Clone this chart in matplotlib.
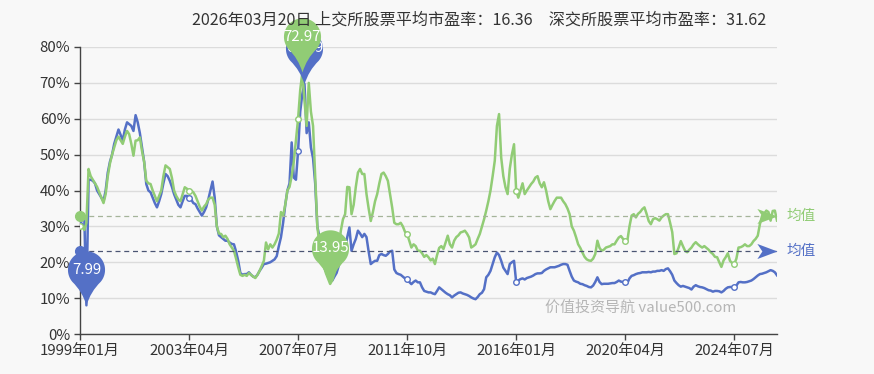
import numpy as np
import matplotlib
matplotlib.use('Agg')
import matplotlib.pyplot as plt
from matplotlib.path import Path

plt.rcParams['font.family'] = ['Noto Sans CJK SC', 'DejaVu Sans']

# 月份类目 1999年01月 ~ 2026年03月
months = [f"{1999 + i // 12}年{i % 12 + 1:02d}月" for i in range(327)]

# 上交所股票平均市盈率 (按月)
sh_pe = [
    30.5, 32, 33, 7.99, 43, 43, 42.7, 42, 40, 39, 38, 37,
    40, 45, 48, 50, 53, 55, 57, 55.5, 54, 57, 59, 58.5,
    58, 56.6, 61, 59, 56, 52, 48, 41.8, 40, 39.5, 38, 36.5,
    35.3, 37, 39, 42, 44.6, 44, 42.7, 41, 39, 37.5, 36, 35.3,
    37, 38.5, 38.5, 38, 37.5, 36.5, 36.2, 35, 34, 33, 34, 35.3,
    37.5, 40, 42.5, 38, 30, 27.5, 27, 26.5, 26, 26, 25.5, 25.1,
    25, 23, 20.4, 17, 16.5, 16.7, 16.7, 17.2, 16.5, 16, 15.8, 16.5,
    17.6, 18.5, 19.5, 19.6, 19.8, 20, 20.4, 20.8, 21.7, 24.5, 27, 31,
    36, 40, 42, 53.4, 43.6, 43, 51, 62, 67, 69.69, 56, 59,
    52, 49, 42, 30, 27, 22, 19, 17.5, 16, 15.5, 14.9, 16,
    17, 19, 21, 22, 24, 27, 29.7, 23.2, 25, 26.5, 28.8, 28,
    27, 27.9, 27, 23, 19.5, 20, 20.4, 20.4, 22, 22.3, 22, 21.8,
    22.3, 23, 23.2, 18, 17, 16.7, 16.5, 16, 15.5, 15.3, 14.5, 13.9,
    14.5, 14.9, 14.4, 14.4, 13, 12, 11.8, 11.6, 11.6, 11.3, 11.1, 12,
    13, 12.5, 12, 11.5, 11.1, 10.8, 10.2, 10.7, 11.1, 11.5, 11.6, 11.3,
    11.1, 10.9, 10.6, 10.2, 9.9, 9.7, 10.3, 11.1, 11.5, 12.5, 15.8, 16.5,
    17.6, 19.5, 21.4, 22.7, 22, 20.4, 18.5, 17.6, 16.7, 19.5, 20, 20.4,
    14.5, 14.9, 15.3, 15.5, 15.2, 15.6, 15.8, 16, 16.3, 16.7, 16.9, 16.9,
    17, 17.6, 18, 18.3, 18.6, 18.6, 18.6, 18.8, 19, 19.3, 19.5, 19.5,
    19.3, 17.6, 16, 14.9, 14.6, 14.4, 14, 13.9, 13.6, 13.4, 13.1, 13,
    13.5, 14.5, 15.8, 14.5, 13.9, 14, 14, 14, 14.1, 14.2, 14.2, 14.5,
    14.9, 14.6, 14.5, 14.4, 14.2, 15.5, 16.2, 16.4, 16.7, 16.9, 17, 17.2,
    17.2, 17.2, 17.3, 17.2, 17.4, 17.4, 17.6, 17.6, 17.8, 17.6, 18.1, 18.3,
    17.5, 16.5, 14.9, 14.2, 13.6, 13.2, 13.4, 13.2, 13, 12.8, 12.4, 13.2,
    13.6, 13.3, 13.1, 13, 12.8, 12.5, 12.2, 12.1, 11.8, 12, 12, 11.9,
    11.6, 12, 12.6, 13, 13.1, 13.1, 13.1, 13.5, 14.4, 14.5, 14.4, 14.4,
    14.5, 14.7, 14.9, 15.3, 15.8, 16.3, 16.7, 16.8, 17, 17.2, 17.5, 17.8,
    17.6, 17.2, 16.36,
]

# 深交所股票平均市盈率 (按月)
sz_pe = [
    30, 30, 29, 31, 46, 44, 43, 42, 41, 39.5, 38, 36.5,
    39, 44, 47.5, 50, 52, 54, 55, 54, 53, 55, 56.6, 55.7,
    53, 49.7, 53.9, 54, 54.8, 51, 48, 42.7, 42, 41.8, 40, 38.5,
    37, 38.5, 40, 44, 47, 46.5, 46, 43.5, 40, 38.5, 37.5, 37,
    39, 40.9, 40.5, 40, 40, 39.5, 38.5, 37, 35.5, 34.4, 35.5, 36.2,
    37.5, 38, 38, 36, 30, 28, 27.9, 27, 27.4, 26.5, 25, 24.1,
    23.2, 21, 18.6, 16.5, 16.2, 16.5, 16.2, 17, 16.5, 16, 15.6, 16.5,
    17.6, 19, 20.4, 25.5, 23.6, 25, 24.1, 25, 26.3, 28, 34, 33,
    36, 40, 41, 44, 48, 54, 60, 68, 72.97, 65, 58, 70,
    62, 58, 44, 30, 25, 21, 19, 17, 15.5, 13.95, 15, 17,
    19.5, 24, 28.8, 32, 33.4, 41, 40.9, 33.4, 36, 41, 45, 46,
    44.6, 44.6, 39, 35, 31.5, 34, 37, 39, 42, 44.6, 45, 44,
    42.7, 39, 35.3, 31, 30.6, 30.6, 31, 30, 28.5, 27.9, 26, 24.1,
    25, 24.5, 23.2, 23.2, 22.5, 21.5, 22, 21.4, 20.5, 21, 19.5, 22,
    24, 24.5, 23.7, 25.5, 27.4, 25, 24.1, 26, 27, 27.5, 28.3, 28.5,
    28.8, 28, 26.9, 24.1, 24.5, 25, 26.5, 27.9, 30, 32, 34.4, 37,
    40, 44, 48.3, 58, 61.3, 49.2, 44, 40.9, 39, 46, 50, 52.9,
    40, 38, 40, 42, 39, 40, 40.9, 41.8, 42.5, 43.6, 44, 42,
    40.9, 42.3, 40, 37, 34.8, 36, 37.1, 38, 38, 38, 37, 36.2,
    35, 33.4, 30, 28.8, 27, 25, 24, 22.7, 21.5, 20.8, 20.5, 20.4,
    21, 22.3, 26, 24, 23.2, 23.5, 24.1, 24.3, 24.5, 25, 25, 26,
    26.9, 27.3, 26.5, 26, 26, 30, 33, 33.4, 32.5, 33.5, 34, 34.8,
    35.3, 33.5, 31.5, 30.6, 32, 32.3, 32, 31.6, 32.5, 33, 33.4, 33.4,
    31, 28.4, 22.3, 22.5, 24.1, 25.9, 24.5, 23.2, 22.8, 23.5, 24.1, 25,
    25.6, 25, 24.5, 24.1, 24.5, 24, 23.5, 22.8, 22.3, 21.5, 21.4, 20,
    18.7, 20.5, 21.4, 22.5, 20.4, 19.8, 19.5, 21, 24.1, 24.2, 24.5, 25,
    24.5, 24.5, 25, 25.9, 26.5, 27.4, 30.6, 32.9, 33.5, 34.4, 34, 31.6,
    34.3, 34.4, 31.62,
]

# 均值线
sh_mean = 23.1
sz_mean = 32.9

title = "2026年03月20日 上交所股票平均市盈率：16.36　深交所股票平均市盈率：31.62"
watermark = "价值投资导航 value500.com"

BLUE = '#5470c6'
GREEN = '#91cc75'
BG = '#f8f8f8'

# 气泡标记 (尖端在原点, 两侧内凹)
c = 1.92
ang = np.radians(np.linspace(-40, 220, 60))
arc = [(np.cos(t), c + np.sin(t)) for t in ang]
verts = arc + [(-0.22, 0.75), (0, 0), (0.22, 0.75), arc[0], arc[0]]
codes = ([Path.MOVETO] + [Path.LINETO] * (len(arc) - 1)
         + [Path.CURVE3, Path.CURVE3, Path.CURVE3, Path.CURVE3, Path.CLOSEPOLY])
pin = Path(verts, codes)
PIN_MS = 78
pin_off = c * 0.5 * PIN_MS / (c + 1)

# 箭头 (尖端在原点)
arrow = Path([(0, 0), (-2, 0.75), (-1.5, 0), (-2, -0.75), (0, 0)],
             [Path.MOVETO, Path.LINETO, Path.LINETO, Path.LINETO, Path.CLOSEPOLY])

fig = plt.figure(figsize=(8.74, 3.74), dpi=100, facecolor=BG)
ax = fig.add_axes([80 / 874, 40 / 374, 697 / 874, 287 / 374])
ax.set_facecolor(BG)

x = np.arange(len(months))
every = list(range(0, len(months), 51))
ax.plot(x, sh_pe, color=BLUE, lw=1.8, zorder=3, marker='o', markevery=every,
        ms=4, mfc='white', mec=BLUE, mew=1)
ax.plot(x, sz_pe, color=GREEN, lw=1.8, zorder=4, marker='o', markevery=every,
        ms=4, mfc='white', mec=GREEN, mew=1)

# 均值线
for val, col, dcol in [(sh_mean, BLUE, '#4b5573'), (sz_mean, GREEN, '#a5b49a')]:
    ax.plot([x[0], x[-1]], [val, val], ls=(0, (4, 3)), lw=0.9, color=dcol, zorder=5)
    ax.plot([x[0]], [val], marker='o', ms=7, color=col, zorder=5, clip_on=False)
    ax.plot([x[-1]], [val], marker=arrow, ms=29, color=col, mew=0, zorder=5, clip_on=False)
    ax.annotate('均值', (x[-1], val), xytext=(7, 0), textcoords='offset points',
                ha='left', va='center', fontsize=10.5, color=col, annotation_clip=False)

# 最大/最小值气泡
def draw_pin(vals, idx, col, z):
    ax.plot([idx], [vals[idx]], marker=pin, ms=PIN_MS, color=col, mew=0,
            zorder=z, clip_on=False)
    ax.annotate(f"{vals[idx]:.2f}", (idx, vals[idx]), xytext=(0, pin_off),
                textcoords='offset points', ha='center', va='center',
                color='white', fontsize=10.8, zorder=z + 0.5, annotation_clip=False)

draw_pin(sh_pe, int(np.argmax(sh_pe)), BLUE, 6)
draw_pin(sh_pe, int(np.argmin(sh_pe)), BLUE, 6)
draw_pin(sz_pe, int(np.argmax(sz_pe)), GREEN, 8)
draw_pin(sz_pe, int(np.argmin(sz_pe)), GREEN, 8)

ax.set_xlim(0, len(months) - 1)
ax.set_ylim(0, 80)
ax.set_yticks(range(0, 81, 10))
ax.set_yticklabels([f"{v}%" for v in range(0, 81, 10)])
ax.set_xticks(every)
ax.set_xticklabels([months[i] for i in every])
ax.grid(axis='y', color='#dcdcdc', lw=1)
ax.set_axisbelow(True)
for s in ['top', 'right']:
    ax.spines[s].set_visible(False)
for s in ['left', 'bottom']:
    ax.spines[s].set_color('#444444')
    ax.spines[s].set_linewidth(1)
ax.tick_params(axis='both', colors='#444444', labelcolor='#333333', labelsize=10.8,
               length=4, width=1, pad=3)

fig.text(192 / 874, 1 - 20 / 374, title, ha='left', va='center', fontsize=11.6, color='#333333')
fig.text(641 / 874, 1 - 308 / 374, watermark, ha='center', va='center', fontsize=10.8,
         color='#b5b5b5')

fig.savefig('out.png', dpi=100, facecolor=BG)
